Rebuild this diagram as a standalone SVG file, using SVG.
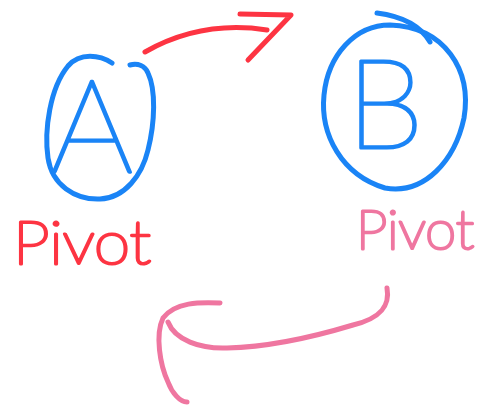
<svg xmlns="http://www.w3.org/2000/svg" width="482" height="407" viewBox="0 0 482 407">
<style>
.pen{fill:none;stroke-width:5;stroke-linecap:round;stroke-linejoin:round}
.blue{stroke:#1a84f6}
.red{stroke:#fd3442}
.pink{stroke:#ef76a0}
.letter{font-family:Lato,"Liberation Sans",sans-serif;font-weight:100;fill:#1a84f6;stroke:#1a84f6;stroke-width:3;stroke-linejoin:round}
.lbl{font-family:Lato,"Liberation Sans",sans-serif;font-weight:100;stroke-width:3;stroke-linejoin:round}
</style>
<rect width="482" height="407" fill="#ffffff"/>
<g id="nodeA">
<path class="pen blue" d="M112,63 C100,55 80,52 68,66 C50,88 44,130 48,158 C52,185 75,200 100,199 C125,198 142,175 148,150 C155,122 156,90 148,73 C145,66 138,63 130,65"/>
<text class="letter" x="92" y="172" font-size="130" text-anchor="middle">A</text>
<text class="lbl" x="13" y="264" font-size="60" fill="#fd3442" stroke="#fd3442" textLength="138" lengthAdjust="spacingAndGlyphs">Pivot</text>
</g>
<g id="nodeB">
<path class="pen blue" d="M390,25 C355,25 328,55 324,95 C320,135 342,175 385,188 C425,195 455,160 464,118 C472,70 445,27 390,25 Z"/>
<path class="pen blue" d="M377,13 C400,16 420,25 430,42"/>
<text class="letter" x="385" y="148" font-size="125" text-anchor="middle">B</text>
<text class="lbl" x="356" y="249" font-size="54" fill="#ef76a0" stroke="#ef76a0" textLength="118" lengthAdjust="spacingAndGlyphs">Pivot</text>
</g>
<g id="connectors">
<path class="pen red" d="M145,52 C175,35 215,22 267,30"/>
<path class="pen red" d="M240,14 L291,15 L248,60"/>
<path class="pen pink" d="M387,288 C390,305 382,318 353,325 C320,335 270,347 227,348 C200,349 175,340 168,322"/>
<path class="pen pink" d="M220,303 C200,302 175,302 163,318 C155,335 160,365 168,382 C172,393 180,402 187,402"/>
</g>
</svg>
